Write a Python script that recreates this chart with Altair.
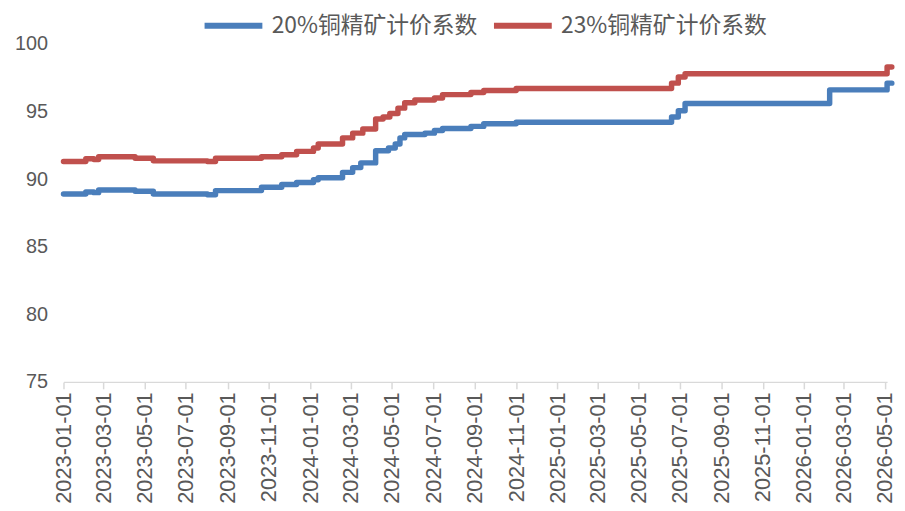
import altair as alt
import pandas as pd

series_names = ["20%铜精矿计价系数", "23%铜精矿计价系数"]

blue_dates = ["2023-01-01", "2023-02-03", "2023-02-15", "2023-02-22", "2023-04-17", "2023-05-14",
              "2023-08-02", "2023-08-14", "2023-10-21", "2023-11-20", "2023-12-12", "2024-01-06",
              "2024-01-13", "2024-02-18", "2024-03-04", "2024-03-16", "2024-04-07", "2024-04-26",
              "2024-05-06", "2024-05-13", "2024-05-20", "2024-06-19", "2024-07-03", "2024-07-15",
              "2024-08-26", "2024-09-14", "2024-11-01", "2025-06-19", "2025-06-29", "2025-07-09",
              "2026-02-08", "2026-05-04", "2026-05-11"]
blue_vals = [88.9, 89.05, 89.0, 89.2, 89.1, 88.9, 88.85, 89.15, 89.4, 89.6, 89.75, 89.95,
             90.1, 90.5, 90.85, 91.2, 92.1, 92.3, 92.6, 93.05, 93.3, 93.4, 93.6, 93.75,
             93.9, 94.1, 94.2, 94.6, 95.05, 95.6, 96.6, 97.1, 97.1]

red_dates = ["2023-01-01", "2023-02-03", "2023-02-15", "2023-02-22", "2023-04-17", "2023-05-14",
             "2023-08-02", "2023-08-14", "2023-10-21", "2023-11-20", "2023-12-12", "2024-01-06",
             "2024-01-13", "2024-02-18", "2024-03-04", "2024-03-19", "2024-04-07", "2024-04-18",
             "2024-04-28", "2024-05-10", "2024-05-20", "2024-06-04", "2024-07-03", "2024-07-15",
             "2024-08-26", "2024-09-14", "2024-11-01", "2025-06-19", "2025-06-29", "2025-07-09",
             "2026-05-04", "2026-05-11"]
red_vals = [91.3, 91.5, 91.45, 91.65, 91.55, 91.35, 91.3, 91.55, 91.65, 91.8, 92.05, 92.3,
            92.6, 93.05, 93.4, 93.7, 94.45, 94.6, 94.85, 95.25, 95.65, 95.85, 96.0, 96.25,
            96.4, 96.55, 96.7, 97.1, 97.55, 97.8, 98.3, 98.3]

tick_dates = ["2023-01-01", "2023-03-01", "2023-05-01", "2023-07-01", "2023-09-01", "2023-11-01",
              "2024-01-01", "2024-03-01", "2024-05-01", "2024-07-01", "2024-09-01", "2024-11-01",
              "2025-01-01", "2025-03-01", "2025-05-01", "2025-07-01", "2025-09-01", "2025-11-01",
              "2026-01-01", "2026-03-01", "2026-05-01"]
y_ticks = [75, 80, 85, 90, 95, 100]

rows = []
for d, v in zip(blue_dates, blue_vals):
    rows.append({"date": d, "value": v, "series": series_names[0]})
for d, v in zip(red_dates, red_vals):
    rows.append({"date": d, "value": v, "series": series_names[1]})
df = pd.DataFrame(rows)

tick_ms = [int(pd.Timestamp(t, tz="UTC").value // 10**6) for t in tick_dates]
dom = [int(pd.Timestamp("2023-01-01", tz="UTC").value // 10**6),
       int(pd.Timestamp("2026-05-04", tz="UTC").value // 10**6)]

label_color = "#595959"
axis_gray = "#d9d9d9"

chart = alt.Chart(df).mark_line(
    interpolate="step-after", strokeWidth=5.5, strokeCap="round", strokeJoin="round"
).encode(
    x=alt.X("date:T", scale=alt.Scale(type="utc", domain=dom, nice=False),
            axis=alt.Axis(values=tick_ms, labelExpr="utcFormat(datum.value, '%Y-%m-%d')",
                          labelAngle=-90, labelAlign="right", labelBaseline="middle",
                          labelFont="Liberation Sans", labelFontSize=22, labelColor=label_color,
                          labelPadding=3, tickSize=7, tickColor=axis_gray, tickWidth=1.5,
                          domainColor=axis_gray, domainWidth=1.5, grid=False, title=None,
                          labelOverlap=False, labelFlush=False)),
    y=alt.Y("value:Q", scale=alt.Scale(domain=[75, 100], nice=False, zero=False),
            axis=alt.Axis(values=y_ticks, labelFont="Liberation Sans", labelFontSize=20,
                          labelColor=label_color, ticks=False, domain=False, grid=False,
                          labelPadding=16, title=None)),
    color=alt.Color("series:N",
                    scale=alt.Scale(domain=series_names, range=["#4a7ebb", "#c0504d"]),
                    legend=alt.Legend(orient="none", legendX=139, legendY=-51,
                                      direction="horizontal", title=None,
                                      symbolType="stroke", symbolSize=3400,
                                      symbolStrokeWidth=6, labelFont="Noto Sans CJK SC",
                                      labelFontSize=23, labelColor=label_color,
                                      labelLimit=400, columnPadding=4, labelOffset=6)),
).properties(
    width=831, height=341,
    autosize=alt.AutoSizeParams(type="none"),
    padding={"left": 56, "top": 34, "right": 10, "bottom": 125},
).configure(background="white").configure_view(stroke=None)

chart.save("out.html", embed_options={"renderer": "svg", "actions": False})
